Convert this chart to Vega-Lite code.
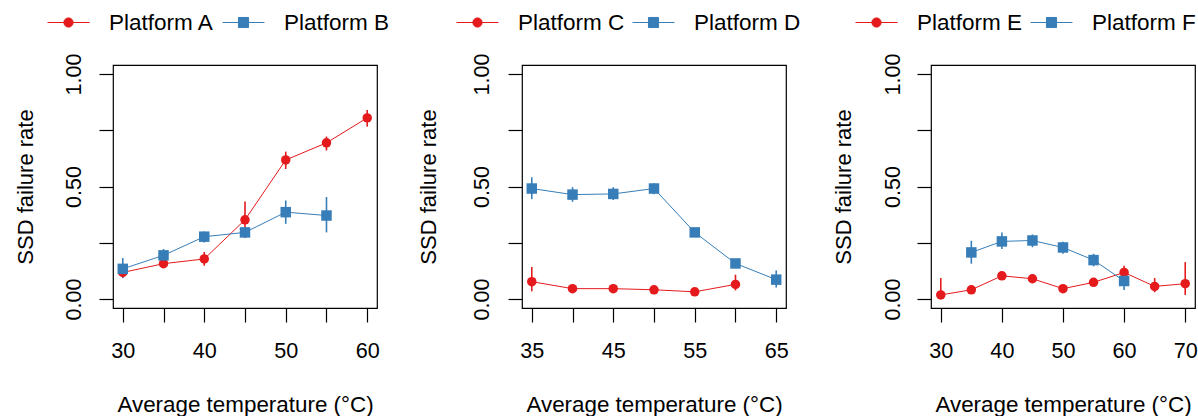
{
  "$schema": "https://vega.github.io/schema/vega-lite/v6.json",
  "background": "white",
  "padding": {"left": 13, "top": 0, "right": 0, "bottom": 0},
  "autosize": {"type": "pad"},
  "config": {
    "font": "Liberation Sans",
    "view": {"stroke": "black", "strokeWidth": 1.2},
    "axis": {"domain": false, "grid": false, "tickColor": "black", "tickWidth": 1.2, "tickSize": 14, "labelColor": "black", "titleColor": "black", "labelFont": "Liberation Sans", "titleFont": "Liberation Sans", "titleFontWeight": "normal"},
    "legend": {"labelFont": "Liberation Sans", "labelColor": "black", "labelFontSize": 22.5, "padding": 0}
  },
  "datasets": {
    "d": [
      {"panel": 1, "series": "Platform A", "temp": 30, "rate": 0.118, "lo": 0.093, "hi": 0.140},
      {"panel": 1, "series": "Platform A", "temp": 35, "rate": 0.157, "lo": 0.142, "hi": 0.172},
      {"panel": 1, "series": "Platform A", "temp": 40, "rate": 0.178, "lo": 0.148, "hi": 0.209},
      {"panel": 1, "series": "Platform A", "temp": 45, "rate": 0.352, "lo": 0.271, "hi": 0.433},
      {"panel": 1, "series": "Platform A", "temp": 50, "rate": 0.618, "lo": 0.578, "hi": 0.655},
      {"panel": 1, "series": "Platform A", "temp": 55, "rate": 0.694, "lo": 0.660, "hi": 0.722},
      {"panel": 1, "series": "Platform A", "temp": 60, "rate": 0.805, "lo": 0.766, "hi": 0.840},
      {"panel": 1, "series": "Platform B", "temp": 30, "rate": 0.134, "lo": 0.093, "hi": 0.182},
      {"panel": 1, "series": "Platform B", "temp": 35, "rate": 0.194, "lo": 0.167, "hi": 0.222},
      {"panel": 1, "series": "Platform B", "temp": 40, "rate": 0.277, "lo": 0.251, "hi": 0.300},
      {"panel": 1, "series": "Platform B", "temp": 45, "rate": 0.296, "lo": 0.275, "hi": 0.318},
      {"panel": 1, "series": "Platform B", "temp": 50, "rate": 0.386, "lo": 0.334, "hi": 0.438},
      {"panel": 1, "series": "Platform B", "temp": 55, "rate": 0.371, "lo": 0.296, "hi": 0.453},
      {"panel": 2, "series": "Platform C", "temp": 35, "rate": 0.077, "lo": 0.034, "hi": 0.142},
      {"panel": 2, "series": "Platform C", "temp": 40, "rate": 0.046, "lo": 0.034, "hi": 0.058},
      {"panel": 2, "series": "Platform C", "temp": 45, "rate": 0.046, "lo": 0.034, "hi": 0.058},
      {"panel": 2, "series": "Platform C", "temp": 50, "rate": 0.041, "lo": 0.029, "hi": 0.053},
      {"panel": 2, "series": "Platform C", "temp": 55, "rate": 0.032, "lo": 0.020, "hi": 0.044},
      {"panel": 2, "series": "Platform C", "temp": 60, "rate": 0.065, "lo": 0.038, "hi": 0.108},
      {"panel": 2, "series": "Platform D", "temp": 35, "rate": 0.491, "lo": 0.444, "hi": 0.541},
      {"panel": 2, "series": "Platform D", "temp": 40, "rate": 0.464, "lo": 0.432, "hi": 0.497},
      {"panel": 2, "series": "Platform D", "temp": 45, "rate": 0.467, "lo": 0.440, "hi": 0.497},
      {"panel": 2, "series": "Platform D", "temp": 50, "rate": 0.491, "lo": 0.466, "hi": 0.515},
      {"panel": 2, "series": "Platform D", "temp": 55, "rate": 0.296, "lo": 0.281, "hi": 0.311},
      {"panel": 2, "series": "Platform D", "temp": 60, "rate": 0.158, "lo": 0.143, "hi": 0.173},
      {"panel": 2, "series": "Platform D", "temp": 65, "rate": 0.086, "lo": 0.051, "hi": 0.127},
      {"panel": 3, "series": "Platform E", "temp": 30, "rate": 0.018, "lo": 0.004, "hi": 0.093},
      {"panel": 3, "series": "Platform E", "temp": 35, "rate": 0.041, "lo": 0.029, "hi": 0.053},
      {"panel": 3, "series": "Platform E", "temp": 40, "rate": 0.103, "lo": 0.091, "hi": 0.115},
      {"panel": 3, "series": "Platform E", "temp": 45, "rate": 0.090, "lo": 0.078, "hi": 0.102},
      {"panel": 3, "series": "Platform E", "temp": 50, "rate": 0.046, "lo": 0.034, "hi": 0.058},
      {"panel": 3, "series": "Platform E", "temp": 55, "rate": 0.074, "lo": 0.062, "hi": 0.086},
      {"panel": 3, "series": "Platform E", "temp": 60, "rate": 0.118, "lo": 0.093, "hi": 0.148},
      {"panel": 3, "series": "Platform E", "temp": 65, "rate": 0.056, "lo": 0.030, "hi": 0.093},
      {"panel": 3, "series": "Platform E", "temp": 70, "rate": 0.068, "lo": 0.018, "hi": 0.164},
      {"panel": 3, "series": "Platform F", "temp": 35, "rate": 0.207, "lo": 0.157, "hi": 0.259},
      {"panel": 3, "series": "Platform F", "temp": 40, "rate": 0.256, "lo": 0.222, "hi": 0.296},
      {"panel": 3, "series": "Platform F", "temp": 45, "rate": 0.260, "lo": 0.230, "hi": 0.287},
      {"panel": 3, "series": "Platform F", "temp": 50, "rate": 0.229, "lo": 0.201, "hi": 0.255},
      {"panel": 3, "series": "Platform F", "temp": 55, "rate": 0.173, "lo": 0.145, "hi": 0.201},
      {"panel": 3, "series": "Platform F", "temp": 60, "rate": 0.080, "lo": 0.040, "hi": 0.120}
    ]
  },
  "spacing": 145,
  "bounds": "flush",
  "resolve": {
    "scale": {"x": "independent", "y": "independent", "color": "independent"},
    "legend": {"color": "independent"}
  },
  "hconcat": [
    {
      "width": 264, "height": 243,
      "data": {"name": "d"},
      "transform": [{"filter": "datum.panel == 1"}],
      "encoding": {
        "x": {"field": "temp", "type": "quantitative", "scale": {"domain": [28.8, 61.2], "nice": false, "zero": false},
          "axis": {"values": [30, 35, 40, 45, 50, 55, 60], "labelExpr": "datum.value % 10 == 0 ? datum.label : ''", "title": "Average temperature (°C)", "labelFontSize": 21.6, "labelBaseline": "alphabetic", "labelPadding": 35.3, "labelFlush": false, "labelOverlap": false, "labelBound": false, "titleFontSize": 22.4, "titleBaseline": "alphabetic", "titleY": 103.5}},
        "color": {"field": "series", "type": "nominal", "scale": {"domain": ["Platform A", "Platform B"], "range": ["#e41a1c", "#377eb8"]},
          "legend": {"title": null, "orient": "none", "direction": "horizontal", "legendX": -66, "legendY": -64, "symbolSize": 1764, "labelOffset": 19, "columnPadding": 5,
            "encode": {"symbols": {"update": {
              "shape": {"signal": "indexof(['Platform A','Platform C','Platform E'], datum.value) >= 0 ? 'M-1,0L1,0M-0.22,0A0.22,0.22,0,1,1,0.22,0A0.22,0.22,0,1,1,-0.22,0Z' : 'M-1,0L1,0M-0.24,-0.24L0.24,-0.24L0.24,0.24L-0.24,0.24Z'"},
              "fill": {"signal": "indexof(['Platform A','Platform C','Platform E'], datum.value) >= 0 ? '#e41a1c' : '#377eb8'"},
              "stroke": {"signal": "indexof(['Platform A','Platform C','Platform E'], datum.value) >= 0 ? '#e41a1c' : '#377eb8'"},
              "strokeWidth": {"value": 1}, "opacity": {"value": 1}, "fillOpacity": {"value": 1}, "strokeOpacity": {"value": 1}}}}}}
      },
      "layer": [
        {"mark": {"type": "line", "strokeWidth": 1},
          "encoding": {"y": {"field": "rate", "type": "quantitative", "scale": {"domain": [-0.04, 1.04], "nice": false, "zero": false},
            "axis": {"values": [0, 0.25, 0.5, 0.75, 1], "labelExpr": "datum.value == 0 || datum.value == 0.5 || datum.value == 1 ? format(datum.value, '.2f') : ''", "title": "SSD failure rate", "labelAngle": 270, "labelAlign": "center", "labelBaseline": "alphabetic", "labelPadding": 18.3, "labelFontSize": 21.5, "labelOverlap": false, "labelBound": false, "labelFlush": false, "titleFontSize": 22, "titleAngle": 270, "titleAlign": "center", "titleBaseline": "alphabetic", "titleX": -81, "titleY": 121.5}}}},
        {"mark": {"type": "rule", "strokeWidth": 1.6},
          "encoding": {"y": {"field": "lo", "type": "quantitative"}, "y2": {"field": "hi"}}},
        {"transform": [{"filter": "indexof(['Platform A','Platform C','Platform E'], datum.series) >= 0"}],
          "mark": {"type": "point", "shape": "circle", "filled": true, "opacity": 1, "size": 90},
          "encoding": {"y": {"field": "rate", "type": "quantitative"}}},
        {"transform": [{"filter": "indexof(['Platform A','Platform C','Platform E'], datum.series) < 0"}],
          "mark": {"type": "point", "shape": "square", "filled": true, "opacity": 1, "size": 110},
          "encoding": {"y": {"field": "rate", "type": "quantitative"}}}
      ]
    },
    {
      "width": 264, "height": 243,
      "data": {"name": "d"},
      "transform": [{"filter": "datum.panel == 2"}],
      "encoding": {
        "x": {"field": "temp", "type": "quantitative", "scale": {"domain": [33.8, 66.2], "nice": false, "zero": false},
          "axis": {"values": [35, 40, 45, 50, 55, 60, 65], "labelExpr": "(datum.value - 35) % 10 == 0 ? datum.label : ''", "title": "Average temperature (°C)", "labelFontSize": 21.6, "labelBaseline": "alphabetic", "labelPadding": 35.3, "labelFlush": false, "labelOverlap": false, "labelBound": false, "titleFontSize": 22.4, "titleBaseline": "alphabetic", "titleY": 103.5}},
        "color": {"field": "series", "type": "nominal", "scale": {"domain": ["Platform C", "Platform D"], "range": ["#e41a1c", "#377eb8"]},
          "legend": {"title": null, "orient": "none", "direction": "horizontal", "legendX": -66, "legendY": -64, "symbolSize": 1764, "labelOffset": 19, "columnPadding": 5,
            "encode": {"symbols": {"update": {
              "shape": {"signal": "indexof(['Platform A','Platform C','Platform E'], datum.value) >= 0 ? 'M-1,0L1,0M-0.22,0A0.22,0.22,0,1,1,0.22,0A0.22,0.22,0,1,1,-0.22,0Z' : 'M-1,0L1,0M-0.24,-0.24L0.24,-0.24L0.24,0.24L-0.24,0.24Z'"},
              "fill": {"signal": "indexof(['Platform A','Platform C','Platform E'], datum.value) >= 0 ? '#e41a1c' : '#377eb8'"},
              "stroke": {"signal": "indexof(['Platform A','Platform C','Platform E'], datum.value) >= 0 ? '#e41a1c' : '#377eb8'"},
              "strokeWidth": {"value": 1}, "opacity": {"value": 1}, "fillOpacity": {"value": 1}, "strokeOpacity": {"value": 1}}}}}}
      },
      "layer": [
        {"mark": {"type": "line", "strokeWidth": 1},
          "encoding": {"y": {"field": "rate", "type": "quantitative", "scale": {"domain": [-0.04, 1.04], "nice": false, "zero": false},
            "axis": {"values": [0, 0.25, 0.5, 0.75, 1], "labelExpr": "datum.value == 0 || datum.value == 0.5 || datum.value == 1 ? format(datum.value, '.2f') : ''", "title": "SSD failure rate", "labelAngle": 270, "labelAlign": "center", "labelBaseline": "alphabetic", "labelPadding": 19.7, "labelFontSize": 21.5, "labelOverlap": false, "labelBound": false, "labelFlush": false, "titleFontSize": 22, "titleAngle": 270, "titleAlign": "center", "titleBaseline": "alphabetic", "titleX": -86.5, "titleY": 121.5}}}},
        {"mark": {"type": "rule", "strokeWidth": 1.6},
          "encoding": {"y": {"field": "lo", "type": "quantitative"}, "y2": {"field": "hi"}}},
        {"transform": [{"filter": "indexof(['Platform A','Platform C','Platform E'], datum.series) >= 0"}],
          "mark": {"type": "point", "shape": "circle", "filled": true, "opacity": 1, "size": 90},
          "encoding": {"y": {"field": "rate", "type": "quantitative"}}},
        {"transform": [{"filter": "indexof(['Platform A','Platform C','Platform E'], datum.series) < 0"}],
          "mark": {"type": "point", "shape": "square", "filled": true, "opacity": 1, "size": 110},
          "encoding": {"y": {"field": "rate", "type": "quantitative"}}}
      ]
    },
    {
      "width": 264, "height": 243,
      "data": {"name": "d"},
      "transform": [{"filter": "datum.panel == 3"}],
      "encoding": {
        "x": {"field": "temp", "type": "quantitative", "scale": {"domain": [28.4, 71.6], "nice": false, "zero": false},
          "axis": {"values": [30, 40, 50, 60, 70], "title": "Average temperature (°C)", "labelFontSize": 21.6, "labelBaseline": "alphabetic", "labelPadding": 35.3, "labelFlush": false, "labelOverlap": false, "labelBound": false, "titleFontSize": 22.4, "titleBaseline": "alphabetic", "titleY": 103.5}},
        "color": {"field": "series", "type": "nominal", "scale": {"domain": ["Platform E", "Platform F"], "range": ["#e41a1c", "#377eb8"]},
          "legend": {"title": null, "orient": "none", "direction": "horizontal", "legendX": -76, "legendY": -64, "symbolSize": 1764, "labelOffset": 19, "columnPadding": 5,
            "encode": {"symbols": {"update": {
              "shape": {"signal": "indexof(['Platform A','Platform C','Platform E'], datum.value) >= 0 ? 'M-1,0L1,0M-0.22,0A0.22,0.22,0,1,1,0.22,0A0.22,0.22,0,1,1,-0.22,0Z' : 'M-1,0L1,0M-0.24,-0.24L0.24,-0.24L0.24,0.24L-0.24,0.24Z'"},
              "fill": {"signal": "indexof(['Platform A','Platform C','Platform E'], datum.value) >= 0 ? '#e41a1c' : '#377eb8'"},
              "stroke": {"signal": "indexof(['Platform A','Platform C','Platform E'], datum.value) >= 0 ? '#e41a1c' : '#377eb8'"},
              "strokeWidth": {"value": 1}, "opacity": {"value": 1}, "fillOpacity": {"value": 1}, "strokeOpacity": {"value": 1}}}}}}
      },
      "layer": [
        {"mark": {"type": "line", "strokeWidth": 1},
          "encoding": {"y": {"field": "rate", "type": "quantitative", "scale": {"domain": [-0.04, 1.04], "nice": false, "zero": false},
            "axis": {"values": [0, 0.25, 0.5, 0.75, 1], "labelExpr": "datum.value == 0 || datum.value == 0.5 || datum.value == 1 ? format(datum.value, '.2f') : ''", "title": "SSD failure rate", "labelAngle": 270, "labelAlign": "center", "labelBaseline": "alphabetic", "labelPadding": 18, "labelFontSize": 21.5, "labelOverlap": false, "labelBound": false, "labelFlush": false, "titleFontSize": 22, "titleAngle": 270, "titleAlign": "center", "titleBaseline": "alphabetic", "titleX": -81, "titleY": 121.5}}}},
        {"mark": {"type": "rule", "strokeWidth": 1.6},
          "encoding": {"y": {"field": "lo", "type": "quantitative"}, "y2": {"field": "hi"}}},
        {"transform": [{"filter": "indexof(['Platform A','Platform C','Platform E'], datum.series) >= 0"}],
          "mark": {"type": "point", "shape": "circle", "filled": true, "opacity": 1, "size": 90},
          "encoding": {"y": {"field": "rate", "type": "quantitative"}}},
        {"transform": [{"filter": "indexof(['Platform A','Platform C','Platform E'], datum.series) < 0"}],
          "mark": {"type": "point", "shape": "square", "filled": true, "opacity": 1, "size": 110},
          "encoding": {"y": {"field": "rate", "type": "quantitative"}}}
      ]
    }
  ]
}
